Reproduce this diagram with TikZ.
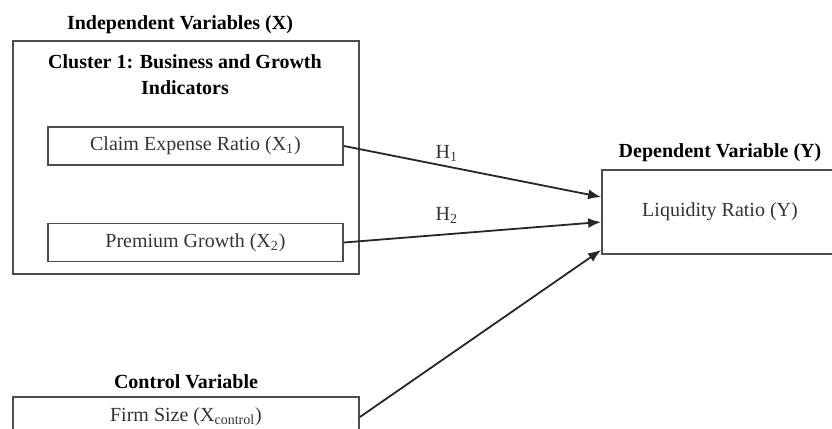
\documentclass[tikz,border=0pt]{standalone}
\usepackage{fontspec}
\setmainfont{Liberation Serif}
\usetikzlibrary{arrows.meta}

\begin{document}
\begin{tikzpicture}[x=0.5pt,y=-0.5pt,
  varbox/.style={draw=black!70,line width=0.9pt,inner sep=0pt,minimum height=19pt,
    font=\fontsize{10}{12}\selectfont,text=black!80},
  heading/.style={font=\bfseries\fontsize{10}{13}\selectfont,align=center},
  effect/.style={-{Latex[length=6.5pt,width=5pt]},line width=0.9pt,black!85},
  hyp/.style={font=\fontsize{10}{12}\selectfont,text=black!80,inner sep=1pt}]
\useasboundingbox (0,0) rectangle (832,429);
\clip (0,0) rectangle (832,429);

% independent variables
\node[heading] (indeptitle) at (180,25) {Independent Variables (X)};
\node[draw=black!70,line width=0.9pt,minimum width=173pt,minimum height=116.5pt,inner sep=0pt]
  (cluster) at (186,157.5) {};
\node[heading] (clustertitle) at (185,75) {Cluster 1: Business and Growth\\Indicators};
\node[varbox,minimum width=147.5pt] (x1) at (195.5,146) {Claim Expense Ratio (X\textsubscript{1})};
\node[varbox,minimum width=147.5pt] (x2) at (195.5,242.5) {Premium Growth (X\textsubscript{2})};

% control variable
\node[heading] (ctrltitle) at (186,382) {Control Variable};
\node[varbox,minimum width=173pt,minimum height=20pt] (ctrl) at (186,417) {Firm Size (X\textsubscript{control})};

% dependent variable
\node[heading] (deptitle) at (720,153) {Dependent Variable (Y)};
\node[varbox,minimum width=118pt,minimum height=42pt] (liq) at (720,212) {Liquidity Ratio (Y)};

% hypotheses
\draw[effect] (x1.east) -- node[hyp,pos=0.4,above=1pt]{H\textsubscript{1}} ([yshift=7.5pt]liq.west);
\draw[effect] (x2.east) -- node[hyp,pos=0.4,above=4pt]{H\textsubscript{2}} ([yshift=-5pt]liq.west);
\draw[effect] (ctrl.east) -- ([yshift=-19pt]liq.west);
\end{tikzpicture}
\end{document}
